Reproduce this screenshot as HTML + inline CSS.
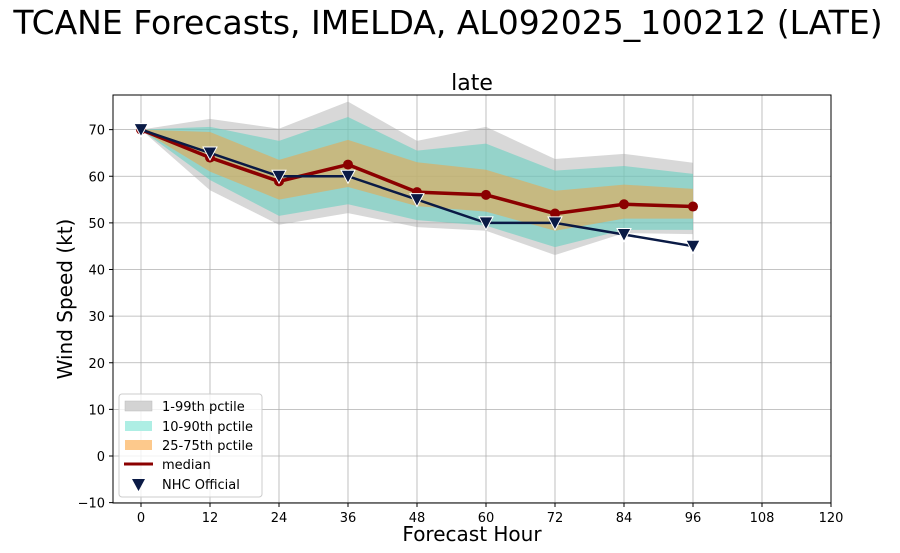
<!DOCTYPE html>
<html><head><meta charset="utf-8"><style>
html,body{margin:0;padding:0;background:#fff;}
svg{display:block;font-family:"DejaVu Sans","Liberation Sans",sans-serif;}
</style></head><body>
<svg id="chart" width="900" height="553" viewBox="0 0 900 553">
<text x="448" y="34" font-size="33" text-anchor="middle">TCANE Forecasts, IMELDA, AL092025_100212 (LATE)</text>
<text x="472" y="90" font-size="22" text-anchor="middle">late</text>
<g id="grid"></g>
<g id="bands"></g>
<g id="lines"></g>
<rect x="113" y="95" width="718" height="408" fill="none" stroke="#000" stroke-width="1"/>
<g id="ticks"></g>
<text x="472" y="541" font-size="20" text-anchor="middle">Forecast Hour</text>
<text transform="translate(72,299) rotate(-90)" font-size="20" text-anchor="middle">Wind Speed (kt)</text>
<g>
<rect x="119" y="394" width="143" height="103" rx="3" fill="#fff" fill-opacity="0.8" stroke="#ccc"/>
<rect x="125" y="401" width="27" height="10" fill="#d3d3d3" stroke="#bbb" stroke-width="0.5"/>
<text x="162" y="411" font-size="13">1-99th pctile</text>
<rect x="125" y="421" width="27" height="10" fill="#aeeee4"/>
<text x="162" y="431" font-size="13">10-90th pctile</text>
<rect x="125" y="440" width="27" height="10" fill="#fdc98c"/>
<text x="162" y="450" font-size="13">25-75th pctile</text>
<line x1="124" y1="464" x2="153" y2="464" stroke="#8b0000" stroke-width="3"/>
<text x="162" y="469" font-size="13">median</text>
<path d="M132,479 L145,479 L138.5,491 Z" fill="#0a1a45"/>
<text x="162" y="489" font-size="13">NHC Official</text>
</g>
</svg>
<script>
const hours=[0,12,24,36,48,60,72,84,96];
const p99=[70,72.3,70.2,76,67.6,70.6,63.7,64.8,62.9];
const p01=[70,57,49.6,52.1,49.1,48.3,43.1,47.8,47.6];
const p90=[70,70.6,67.6,72.7,65.5,67,61.2,62.2,60.5];
const p10=[70,59.2,51.5,54,50.6,49.4,44.8,48.5,48.5];
const p75=[70,69.5,63.5,67.8,63,61.4,56.9,58.2,57.3];
const p25=[70,61,55,57.7,53.6,52.4,48.3,50.9,50.9];
const median=[70,64,58.9,62.5,56.6,56,52,54,53.5];
const nhc=[70,65,60,60,55,50,50,47.5,45];
const xTicks=[0,12,24,36,48,60,72,84,96,108,120];
const yTicks=[-10,0,10,20,30,40,50,60,70];
const NS="http://www.w3.org/2000/svg";
const X=h=>141+h*5.75;
const Y=v=>456-v*4.6625;
function mk(tag,attrs,parent){const e=document.createElementNS(NS,tag);for(const k in attrs)e.setAttribute(k,attrs[k]);parent.appendChild(e);return e;}
const grid=document.getElementById('grid'),ticks=document.getElementById('ticks');
xTicks.forEach(t=>{
 const g=mk('line',{x1:X(t),x2:X(t),y1:95,y2:503,stroke:'#b0b0b0','stroke-width':0.8},grid);
 
 
 const tk=mk('line',{x1:X(t),x2:X(t),y1:503,y2:507,stroke:'#000'},ticks);
 
 
 const tx=mk('text',{x:X(t),y:522,'font-size':13,'text-anchor':'middle'},ticks);tx.textContent=t;
 
 
});
yTicks.forEach(t=>{
 const g=mk('line',{x1:113,x2:831,y1:Y(t),y2:Y(t),stroke:'#b0b0b0','stroke-width':0.8},grid);
 
 
 const tk=mk('line',{x1:109,x2:113,y1:Y(t),y2:Y(t),stroke:'#000'},ticks);
 
 
 const tx=mk('text',{x:105,y:Y(t)+5,'font-size':13,'text-anchor':'end'},ticks);tx.textContent=(t<0?'\u2212'+(-t):t);
 
 
});
const bands=document.getElementById('bands');
function band(up,lo,fill,op,name){
 let d='M'+hours.map((h,i)=>X(h)+','+Y(up[i])).join(' L');
 d+=' L'+hours.map((h,i)=>X(h)+','+Y(lo[i])).reverse().join(' L')+' Z';
 const p=mk('path',{d:d,fill:fill,'fill-opacity':op},bands);
 
 
}
band(p99,p01,'#a9a9a9',0.45,'band-1-99');
band(p90,p10,'#5fcfc0',0.55,'band-10-90');
band(p75,p25,'#e8a850',0.6,'band-25-75');
const lines=document.getElementById('lines');
const mp=mk('polyline',{points:hours.map((h,i)=>X(h)+','+Y(median[i])).join(' '),fill:'none',stroke:'#8b0000','stroke-width':3.5},lines);


hours.forEach((h,i)=>{const c=mk('circle',{cx:X(h),cy:Y(median[i]),r:5,fill:'#8b0000'},lines);
 
 });
const np=mk('polyline',{points:hours.map((h,i)=>X(h)+','+Y(nhc[i])).join(' '),fill:'none',stroke:'#0a1a45','stroke-width':2.5},lines);


hours.forEach((h,i)=>{const x=X(h),y=Y(nhc[i]);
 const m=mk('path',{d:`M${x-7},${y-6} L${x+7},${y-6} L${x},${y+7} Z`,fill:'#0a1a45',stroke:'#fff','stroke-width':1},lines);
 
 });
</script>
</body></html>
